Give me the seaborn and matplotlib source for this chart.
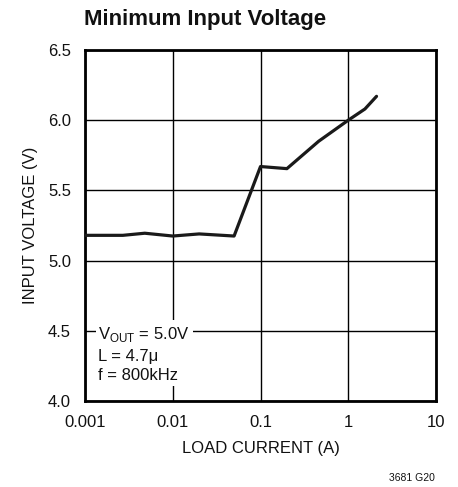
import matplotlib
matplotlib.use("Agg")
import matplotlib.pyplot as plt
import seaborn as sns
import pandas as pd

# load current (A) vs minimum input voltage (V)
load_current = [0.001, 0.0027, 0.0048, 0.01, 0.02, 0.05, 0.1, 0.2, 0.46, 1.0, 1.55, 2.1]
input_voltage = [5.18, 5.18, 5.195, 5.175, 5.19, 5.175, 5.67, 5.655, 5.85, 6.0, 6.08, 6.17]

x_ticks = [0.001, 0.01, 0.1, 1, 10]
x_tick_labels = ["0.001", "0.01", "0.1", "1", "10"]
y_ticks = [4.0, 4.5, 5.0, 5.5, 6.0, 6.5]
y_tick_labels = ["4.0", "4.5", "5.0", "5.5", "6.0", "6.5"]

df = pd.DataFrame({"current": load_current, "voltage": input_voltage})

sns.set_style("white")
plt.rcParams["font.family"] = ["Liberation Sans Narrow", "Liberation Sans", "DejaVu Sans"]

fig = plt.figure(figsize=(4.58, 4.87), dpi=100)
ax = fig.add_axes([85 / 458, 1 - 401 / 487, 351 / 458, 351 / 487])

sns.lineplot(data=df, x="current", y="voltage", ax=ax, color="#1a1a1a", linewidth=2.3, zorder=3)

ax.set_xscale("log")
ax.set_xlim(0.001, 10)
ax.set_ylim(4.0, 6.5)
ax.set_xticks(x_ticks)
ax.set_xticklabels(x_tick_labels)
ax.set_yticks(y_ticks)
ax.set_yticklabels(y_tick_labels)
ax.minorticks_off()
ax.tick_params(axis="x", length=0, labelsize=12, pad=10, colors="#111111")
ax.tick_params(axis="y", length=0, labelsize=12, pad=10, colors="#111111")
ax.grid(True, color="black", linewidth=1.0)
for s in ax.spines.values():
    s.set_linewidth(2.0)
    s.set_color("black")

ax.set_xlabel("LOAD CURRENT (A)", fontsize=12, labelpad=8, color="#111111")
ax.set_ylabel("INPUT VOLTAGE (V)", fontsize=12, labelpad=7, color="#111111")

ax.text(0.038, 0.05, "V$_{\\mathregular{OUT}}$ = 5.0V\nL = 4.7\u03bc\nf = 800kHz",
        transform=ax.transAxes, fontsize=12, color="#111111", linespacing=1.4,
        va="bottom", ha="left", zorder=4,
        bbox=dict(facecolor="white", edgecolor="none", pad=2))

fig.text(84 / 458, 1 - 20 / 487, "Minimum Input Voltage", fontsize=16, fontweight="bold",
         va="center", ha="left", color="#111111")
fig.text(435 / 458, 1 - 478 / 487, "3681 G20", fontsize=7.5, va="center", ha="right",
         color="#111111")

fig.savefig("out.png", dpi=100)
